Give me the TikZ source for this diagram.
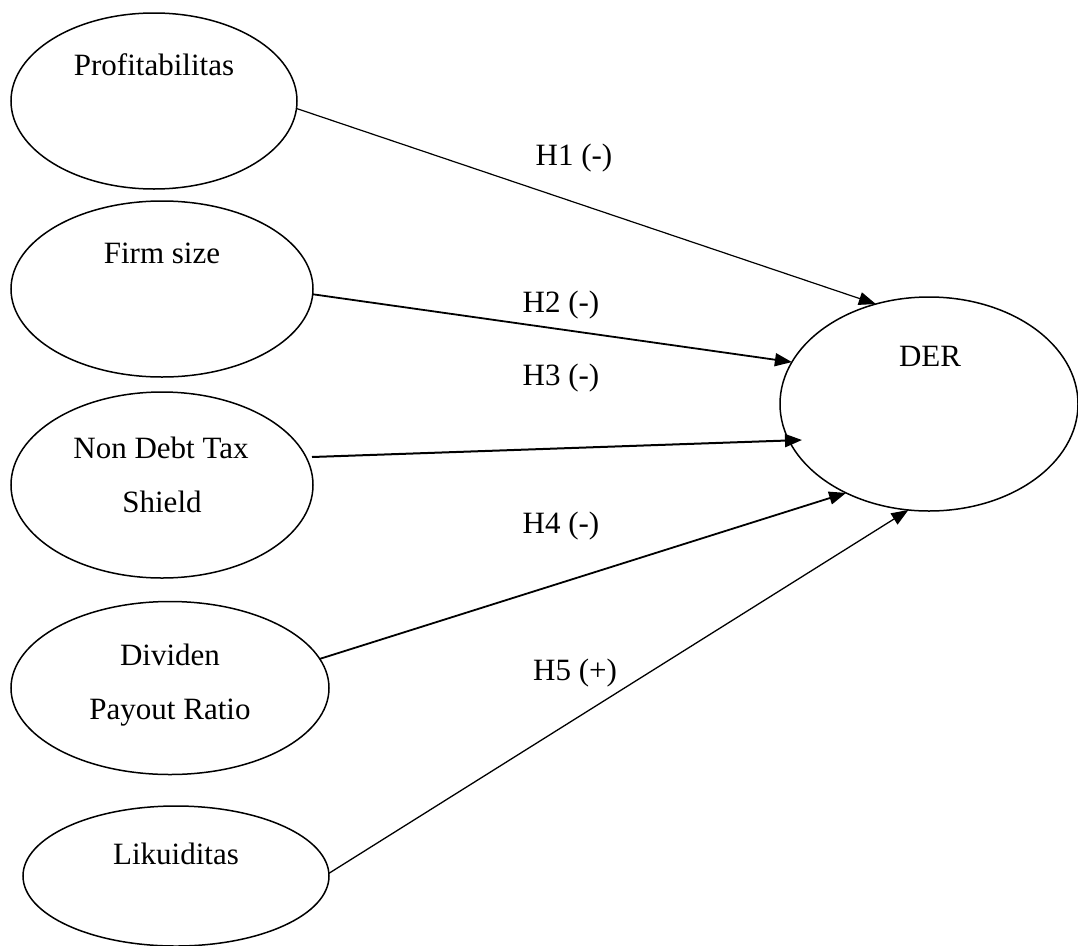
\documentclass[tikz,border=0pt]{standalone}
\usepackage{fontspec}
\setmainfont{Liberation Serif}
\usetikzlibrary{shapes.geometric,arrows.meta,calc}
\tikzset{
  var/.style={ellipse, draw, line width=1.5pt, inner sep=0pt, outer sep=0pt},
  txt/.style={anchor=base, inner sep=0pt, font=\fontsize{31}{37}\selectfont},
  link/.style={-{Triangle[length=17pt,width=13pt]}, line width=1.3pt},
}
\begin{document}
\begin{tikzpicture}[x=1pt,y=-1pt]
\useasboundingbox (0,0) rectangle (1078,945);
% ellipses
\node[var, minimum width=286pt, minimum height=176pt] (e1) at (154,101) {};
\node[var, minimum width=302pt, minimum height=176pt] (e2) at (162,289) {};
\node[var, minimum width=302pt, minimum height=186pt] (e3) at (162,485) {};
\node[var, minimum width=318pt, minimum height=173pt] (e4) at (170,688) {};
\node[var, minimum width=306pt, minimum height=140pt] (e5) at (176,876) {};
\node[var, minimum width=298pt, minimum height=214pt] (der) at (929,404) {};
% texts
\node[txt] (t1) at (154,75) {Profitabilitas};
\node[txt] (t2) at (162,263) {Firm size};
\node[txt] (t3a) at (161,458) {Non Debt Tax};
\node[txt] (t3b) at (162,512) {Shield};
\node[txt] (t4a) at (170,665) {Dividen};
\node[txt] (t4b) at (170,719) {Payout Ratio};
\node[txt] (t5) at (176,864) {Likuiditas};
\node[txt] (td) at (930,366) {DER};
% labels
\node[txt] (h1) at (574,165) {H1 (-)};
\node[txt] (h2) at (561,312) {H2 (-)};
\node[txt] (h3) at (561,385) {H3 (-)};
\node[txt] (h4) at (561,533) {H4 (-)};
\node[txt] (h5) at (575,680) {H5 (+)};
% connectors
\draw[link, line width=1.2pt] (e1.-3) -- (der.118.6);
\draw[link, line width=1.8pt] (e2.-2.3) -- (der.163.2);
\draw[link, line width=2pt] ($(e3.east)+(-1,-28)$) -- ($(der.center)+(-127,36)$);
\draw[link, line width=1.8pt] (e4.11.7) -- (der.-133);
\draw[link, line width=1.3pt] (e5.1) -- (der.-101);
\end{tikzpicture}
\end{document}
